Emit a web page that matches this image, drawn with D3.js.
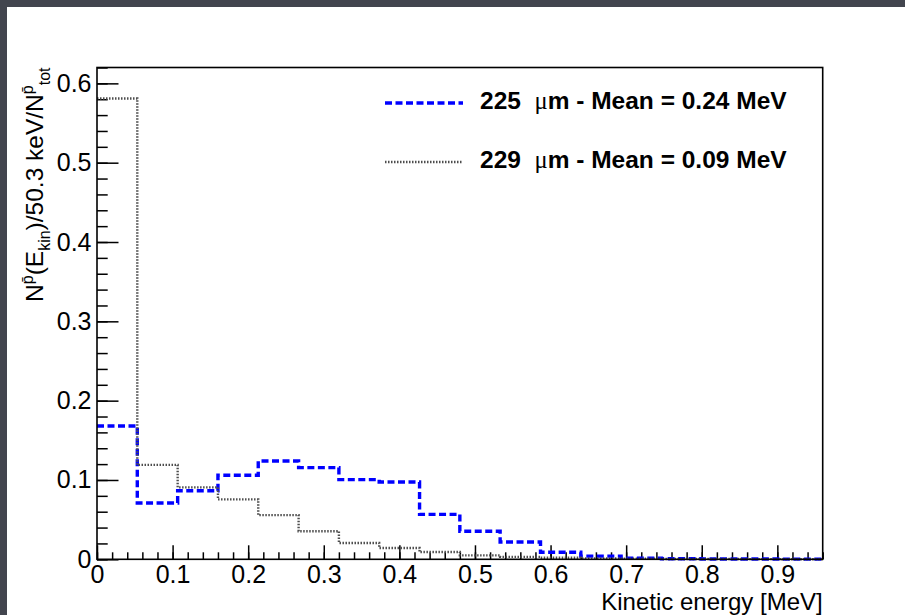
<!DOCTYPE html>
<html>
<head>
<meta charset="utf-8">
<script src="https://cdn.jsdelivr.net/npm/d3@7"></script>
<style>
  html, body { margin: 0; padding: 0; background: #42454e; }
  svg { display: block; }
  .axis text { font-family: "Liberation Sans", Arial, sans-serif; font-size: 25px; fill: #000; }
  .axis line { stroke: #000; stroke-width: 1.5; }
  .axis path.domain { display: none; }
</style>
</head>
<body>
<div id="chart"></div>
<script>
/* Antiproton kinetic energy spectra, two degrader thicknesses. */

// bin edges in MeV (18 bins)
const binEdges = [0, 0.0533, 0.1067, 0.16, 0.2133, 0.2667, 0.32, 0.3733, 0.4267, 0.48,
  0.5333, 0.5867, 0.64, 0.6933, 0.7467, 0.8, 0.8533, 0.9067, 0.96];

// normalised counts per bin
const thick225 = [0.168, 0.071, 0.0865, 0.106, 0.124, 0.1156, 0.1004, 0.0975, 0.0566,
  0.0354, 0.0219, 0.0088, 0.004, 0.0015, 0.0006, 0.0004, 0.0003, 0.0002];
const thick229 = [0.581, 0.119, 0.0907, 0.0755, 0.0557, 0.0354, 0.0206, 0.0143, 0.0092,
  0.005, 0.003, 0.002, 0.001, 0.0006, 0.0004, 0.0003, 0.0002, 0.0001];

const xMajor = [0, 0.1, 0.2, 0.3, 0.4, 0.5, 0.6, 0.7, 0.8, 0.9];
const yMajor = [0, 0.1, 0.2, 0.3, 0.4, 0.5, 0.6];
const xMinor = d3.range(0, 0.9601, 0.02);
const yMinor = d3.range(0, 0.6201, 0.02);

const legendLabels = [
  { num: "225", rest: "m - Mean = 0.24 MeV" },
  { num: "229", rest: "m - Mean = 0.09 MeV" },
];

const W = 905, H = 615;
const margin = { top: 67.5, right: 82.3, bottom: 55.7, left: 97 };

const svg = d3.select("#chart").append("svg")
  .attr("width", W).attr("height", H).attr("viewBox", `0 0 ${W} ${H}`);

// white canvas on the dark desktop
svg.append("rect").attr("x", 7).attr("y", 7).attr("width", W - 7).attr("height", H - 7)
  .attr("fill", "#fff");

const x = d3.scaleLinear().domain([0, 0.96]).range([margin.left, W - margin.right]);
const y = d3.scaleLinear().domain([0, 0.62]).range([H - margin.bottom, margin.top]);

// ticks (ROOT style: drawn inward)
svg.append("g").attr("class", "axis")
  .attr("transform", `translate(0,${y(0)})`)
  .call(d3.axisBottom(x).tickValues(xMinor).tickSize(-7).tickSizeOuter(0).tickFormat(""));
svg.append("g").attr("class", "axis")
  .attr("transform", `translate(0,${y(0)})`)
  .call(d3.axisBottom(x).tickValues(xMajor).tickSize(-14).tickSizeOuter(0).tickPadding(6)
    .tickFormat(d => d === 0 ? "0" : d3.format(".1f")(d)));
svg.append("g").attr("class", "axis")
  .attr("transform", `translate(${x(0)},0)`)
  .call(d3.axisLeft(y).tickValues(yMinor).tickSize(-10.7).tickSizeOuter(0).tickFormat(""));
svg.append("g").attr("class", "axis")
  .attr("transform", `translate(${x(0)},0)`)
  .call(d3.axisLeft(y).tickValues(yMajor).tickSize(-21.5).tickSizeOuter(0).tickPadding(5.5)
    .tickFormat(d => d === 0 ? "0" : d3.format(".1f")(d)));

// histograms
const step = d3.line().curve(d3.curveStepAfter).x(d => x(d[0])).y(d => y(d[1]));
function histPoints(vals) {
  const pts = vals.map((v, i) => [binEdges[i], v]);
  pts.push([binEdges[vals.length], vals[vals.length - 1]]);
  return pts;
}
svg.append("path").datum(histPoints(thick225))
  .attr("fill", "none").attr("stroke", "#0000ff").attr("stroke-width", 3.4)
  .attr("stroke-dasharray", "7,3.5").attr("d", step);
svg.append("path").datum(histPoints(thick229))
  .attr("fill", "none").attr("stroke", "#4d4d4d").attr("stroke-width", 2.4)
  .attr("stroke-dasharray", "1.5,1.5").attr("d", step);

// frame
svg.append("rect")
  .attr("x", x(0)).attr("y", y(0.62))
  .attr("width", x(0.96) - x(0)).attr("height", y(0) - y(0.62))
  .attr("fill", "none").attr("stroke", "#000").attr("stroke-width", 1.6);

// axis titles
svg.append("text")
  .attr("x", x(0.96)).attr("y", 609.5)
  .attr("text-anchor", "end")
  .attr("font-family", "Liberation Sans, Arial, sans-serif").attr("font-size", 24)
  .text("Kinetic energy [MeV]");

const yt = svg.append("text")
  .attr("transform", `translate(43,${margin.top}) rotate(-90)`)
  .attr("text-anchor", "end")
  .attr("font-family", "Liberation Sans, Arial, sans-serif").attr("font-size", 24.5);
yt.append("tspan").text("N");
yt.append("tspan").attr("font-size", 16).attr("dy", -10).text("p\u0304");
yt.append("tspan").attr("dy", 10).text("(E");
yt.append("tspan").attr("font-size", 16).attr("dy", 7).text("kin");
yt.append("tspan").attr("dy", -7).text(")/50.3 keV/N");
yt.append("tspan").attr("font-size", 16).attr("dy", -10).text("p\u0304");
yt.append("tspan").attr("font-size", 16).attr("dy", 17).text("tot");

// legend
const legend = [
  { color: "#0000ff", width: 3.4, dash: "7,3.5", y: 103 },
  { color: "#4d4d4d", width: 2.4, dash: "1.5,1.5", y: 162 },
];
legend.forEach((l, i) => {
  svg.append("line")
    .attr("x1", 385).attr("x2", 463).attr("y1", l.y).attr("y2", l.y)
    .attr("stroke", l.color).attr("stroke-width", l.width).attr("stroke-dasharray", l.dash);
  const t = svg.append("text")
    .attr("x", 480).attr("y", l.y + 6)
    .attr("font-family", "Liberation Sans, Arial, sans-serif")
    .attr("font-size", 24.5).attr("font-weight", 700);
  t.append("tspan").text(legendLabels[i].num + "\u00a0\u00a0");
  t.append("tspan").attr("font-family", "Liberation Serif, Times New Roman, serif")
    .attr("font-weight", 400).text("\u03bc");
  t.append("tspan").text(legendLabels[i].rest);
});
</script>
</body>
</html>
